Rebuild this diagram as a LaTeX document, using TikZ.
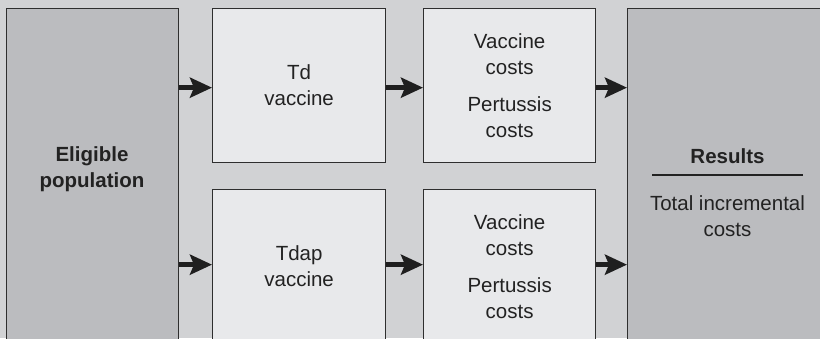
\documentclass[tikz,border=0pt]{standalone}
\usepackage{fontspec}
\setmainfont{Liberation Sans}
\usetikzlibrary{arrows.meta}
\definecolor{bgcol}{HTML}{D1D2D4}
\definecolor{darkfill}{HTML}{BBBCBF}
\definecolor{lightfill}{HTML}{E8E9EB}
\definecolor{edgecol}{HTML}{2E2E2E}
\definecolor{inkcol}{HTML}{222222}
\tikzset{
  boxbase/.style={draw=edgecol, line width=1.3pt, rectangle, inner sep=0pt, anchor=north west},
  darkbox/.style={boxbase, fill=darkfill},
  lightbox/.style={boxbase, fill=lightfill, align=center, text=inkcol,
    font=\fontsize{20.5}{26}\selectfont},
  txt/.style={align=center, text=inkcol, font=\fontsize{20.5}{26}\selectfont, inner sep=0pt},
  boldtxt/.style={txt, font=\fontsize{20.5}{26}\selectfont\bfseries},
  flow/.style={-{Stealth[length=22pt,width=20pt,inset=4pt]}, line width=5pt, draw=inkcol!90!black},
}
\begin{document}
\begin{tikzpicture}[x=1pt,y=-1pt]
  \path[use as bounding box, fill=bgcol] (0,0) rectangle (820,338);
  \clip (0,0) rectangle (820,338);

  % outer columns: population and results
  \node[darkbox, minimum width=172pt, minimum height=360pt] (pop) at (6,8) {};
  \node[darkbox, minimum width=201pt, minimum height=360pt] (res) at (627,8) {};

  % vaccine strategies
  \node[lightbox, minimum width=173pt, minimum height=154pt] (td) at (212,8) {Td\\vaccine};
  \node[lightbox, minimum width=173pt, minimum height=154pt] (tdap) at (212,189) {Tdap\\vaccine};

  % cost components
  \node[lightbox, minimum width=172pt, minimum height=154pt] (c1) at (423,8) {Vaccine\\costs\\[11pt]Pertussis\\costs};
  \node[lightbox, minimum width=172pt, minimum height=154pt] (c2) at (423,189) {Vaccine\\costs\\[11pt]Pertussis\\costs};

  % labels of the outer columns
  \node[boldtxt] (poptext) at (92,169) {Eligible\\population};
  \node[boldtxt] (restitle) at (727.5,156) {Results};
  \draw[line width=2pt, draw=inkcol] (652,175) -- (803,175);
  \node[txt] (restext) at (727.5,216) {Total incremental\\costs};

  % flow arrows
  \draw[flow] (pop.east |- c1.west) ++(0,2) -- ([yshift=-2pt]td.west);
  \draw[flow] (pop.east |- c2.west) ++(0,-2) -- ([yshift=2pt]tdap.west);
  \draw[flow] ([yshift=-2pt]td.east) -- ([yshift=-2pt]c1.west);
  \draw[flow] ([yshift=2pt]tdap.east) -- ([yshift=2pt]c2.west);
  \draw[flow] ([yshift=-2pt]c1.east) -- ([yshift=-2pt]c1.east -| res.west);
  \draw[flow] ([yshift=2pt]c2.east) -- ([yshift=2pt]c2.east -| res.west);
\end{tikzpicture}
\end{document}
